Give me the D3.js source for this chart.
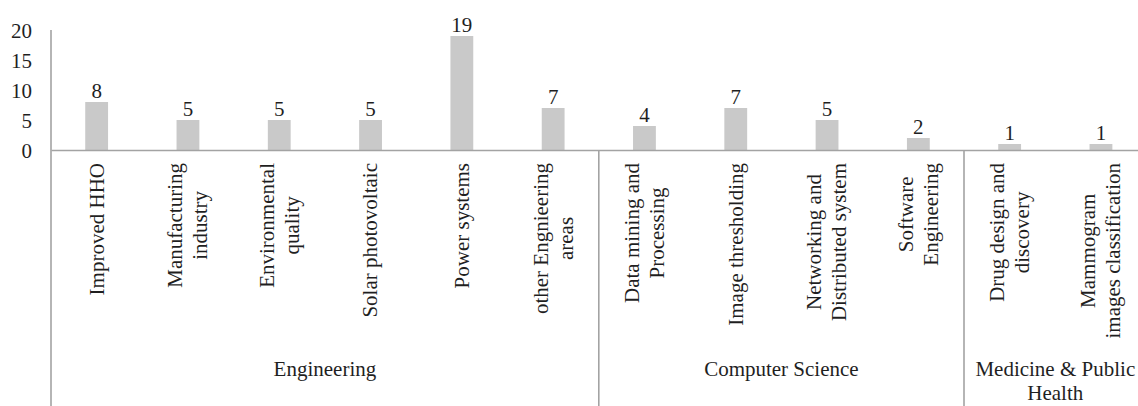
<!DOCTYPE html>
<html>
<head>
<meta charset="utf-8">
<script src="https://cdn.jsdelivr.net/npm/d3@7"></script>
<style>
  html, body { margin: 0; padding: 0; background: #fff; }
  svg { display: block; font-family: "Liberation Serif", "Times New Roman", serif; }
</style>
</head>
<body>
<svg id="chart" width="1138" height="406"></svg>
<script>
// Application areas, their counts and the field each belongs to
const categories = [
  "Improved HHO",
  "Manufacturing\nindustry",
  "Environmental\nquality",
  "Solar photovoltaic",
  "Power systems",
  "other Engnieering\nareas",
  "Data mining and\nProcessing",
  "Image thresholding",
  "Networking and\nDistributed system",
  "Software\nEngineering",
  "Drug design and\ndiscovery",
  "Mammogram\nimages classification"
];
const values = [8, 5, 5, 5, 19, 7, 4, 7, 5, 2, 1, 1];
const groups = ["Engineering", "Computer Science", "Medicine & Public\nHealth"];
const groupOf = [0, 0, 0, 0, 0, 0, 1, 1, 1, 1, 2, 2];
const yTicks = [0, 5, 10, 15, 20];

const FONT = 21;
const TEXT = "#1f1f1f";
const AXIS = "#a3a3a3";
const BAR = "#c9c9c9";

const svg = d3.select("#chart");
const plotLeft = 51, plotRight = 1146.6, plotTop = 30, plotBase = 150, plotBottom = 406;

const x = d3.scaleBand()
  .domain(d3.range(categories.length))
  .range([plotLeft, plotRight])
  .paddingInner(0.75)
  .paddingOuter(0.375);

const y = d3.scaleLinear().domain([0, 20]).range([plotBase, plotTop]);

// value axis labels
const yAxis = svg.append("g")
  .attr("transform", `translate(${plotLeft},0)`)
  .call(d3.axisLeft(y).tickValues(yTicks).tickSize(0).tickPadding(19));
yAxis.select(".domain").remove();
yAxis.selectAll("text")
  .attr("font-size", FONT)
  .attr("font-family", "Liberation Serif, Times New Roman, serif")
  .attr("fill", TEXT)
  .attr("dy", "0.34em");

// bars
svg.append("g").selectAll("rect")
  .data(values)
  .join("rect")
  .attr("x", (d, i) => x(i))
  .attr("width", x.bandwidth())
  .attr("y", d => y(d))
  .attr("height", d => y(0) - y(d))
  .attr("fill", BAR);

// value labels
svg.append("g").selectAll("text")
  .data(values)
  .join("text")
  .attr("x", (d, i) => x(i) + x.bandwidth() / 2)
  .attr("y", d => y(d) - 4)
  .attr("text-anchor", "middle")
  .attr("font-size", FONT)
  .attr("fill", TEXT)
  .text(d => d);

// category axis line
const xAxis = svg.append("g")
  .attr("transform", `translate(0,${plotBase})`)
  .call(d3.axisBottom(x).tickSize(0).tickSizeOuter(0).tickFormat(""));
xAxis.select(".domain").attr("stroke", AXIS).attr("stroke-width", 1.6);

// vertical axis line running through the category label area
svg.append("line")
  .attr("x1", plotLeft).attr("x2", plotLeft)
  .attr("y1", plotTop).attr("y2", plotBottom)
  .attr("stroke", AXIS).attr("stroke-width", 1.6);

// group separators
const gap = (x.step() - x.bandwidth()) / 2;
const groupStart = groups.map((g, gi) => groupOf.indexOf(gi));
const groupEnd = groups.map((g, gi) => groupOf.lastIndexOf(gi));
const startEdge = i => x(i) - gap;
const endEdge = i => x(i) + x.bandwidth() + gap;
svg.append("g").selectAll("line")
  .data(groupStart.slice(1))
  .join("line")
  .attr("x1", d => startEdge(d)).attr("x2", d => startEdge(d))
  .attr("y1", plotBase).attr("y2", plotBottom)
  .attr("stroke", AXIS).attr("stroke-width", 1.6);

// rotated category labels, top-aligned under the axis
const labelTop = 163, lineH = 25;
categories.forEach((label, i) => {
  const lines = label.split("\n");
  const g = svg.append("g")
    .attr("transform", `translate(${x(i) + x.bandwidth() / 2},${labelTop}) rotate(-90)`);
  const texts = lines.map((ln, k) => g.append("text")
    .attr("text-anchor", "middle")
    .attr("font-size", FONT)
    .attr("fill", TEXT)
    .attr("y", (k - (lines.length - 1) / 2) * lineH)
    .attr("dy", "0.33em")
    .text(ln));
  const maxLen = d3.max(texts, t => t.node().getComputedTextLength());
  texts.forEach(t => t.attr("x", -maxLen / 2));
});

// group labels
const groupBaseline = 376, groupLineH = 24;
groups.forEach((name, gi) => {
  const cx = (startEdge(groupStart[gi]) + endEdge(groupEnd[gi])) / 2;
  name.split("\n").forEach((ln, k) => {
    svg.append("text")
      .attr("x", cx)
      .attr("y", groupBaseline + k * groupLineH)
      .attr("text-anchor", "middle")
      .attr("font-size", FONT)
      .attr("fill", TEXT)
      .text(ln);
  });
});
</script>
</body>
</html>
